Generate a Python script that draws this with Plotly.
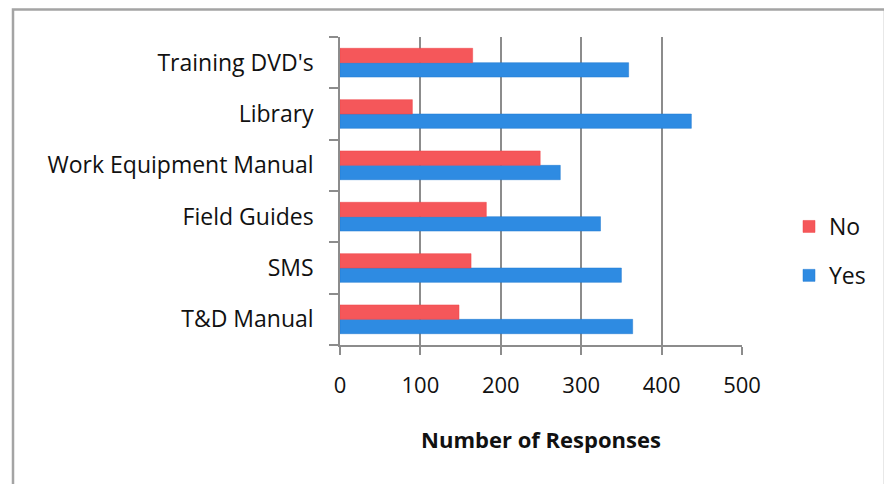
import plotly.graph_objects as go

categories = ["T&D Manual", "SMS", "Field Guides", "Work Equipment Manual", "Library", "Training DVD's"]
yes_values = [364, 350, 324, 274, 437, 359]
no_values = [148, 163, 182, 249, 90, 165]
x_ticks = [0, 100, 200, 300, 400, 500]

FONT = "Open Sans"
OFF = 8  # page body margin offset

W, H = 892 - OFF, 484 - OFF
PL, PR, PT, PB = 340 - OFF, 742 - OFF, 37 - OFF, 345 - OFF

fig = go.Figure()
fig.add_trace(go.Bar(
    y=categories, x=yes_values, name="Yes", orientation="h",
    marker=dict(color="#2E8BE2", line=dict(color="#1E78D0", width=0.5)),
    legendgroup="yes", legendrank=2,
))
fig.add_trace(go.Bar(
    y=categories, x=no_values, name="No", orientation="h",
    marker=dict(color="#F5575A", line=dict(color="#EE4448", width=0.5)),
    legendgroup="no", legendrank=1,
))

pw, ph = PR - PL, PB - PT
fig.update_layout(
    width=W, height=H,
    margin=dict(l=PL, r=W - PR, t=PT, b=H - PB, autoexpand=False),
    paper_bgcolor="white", plot_bgcolor="white",
    barmode="group", bargap=0.44, bargroupgap=0,
    font=dict(family=FONT, size=23, color="#111111"),
    showlegend=True,
    legend=dict(
        x=(789 - 340) / 402, y=(345 - 205) / 308, xanchor="left", yanchor="top",
        traceorder="grouped", tracegroupgap=16,
        font=dict(size=23, color="#111111"),
        bgcolor="rgba(0,0,0,0)",
    ),
    xaxis=dict(
        range=[0, 500], tickvals=x_ticks, ticktext=[str(v) for v in x_ticks],
        showgrid=True, gridcolor="#8c8c8c", gridwidth=1.5,
        showline=True, linecolor="#8c8c8c", linewidth=1.5,
        ticks="outside", ticklen=8, tickcolor="#8c8c8c", tickwidth=1.5,
        zeroline=False, tickfont=dict(size=22),
        title=dict(text="<b>Number of Responses</b>", font=dict(size=22), standoff=34),
        ticklabelstandoff=12,
    ),
    yaxis=dict(
        categoryorder="array", categoryarray=categories,
        showline=True, linecolor="#8c8c8c", linewidth=1.5,
        ticks="outside", ticklen=9, tickcolor="#8c8c8c", tickwidth=1.5,
        tickson="boundaries", showgrid=False,
        ticklabelstandoff=20,
    ),
    shapes=[dict(
        type="rect", xref="paper", yref="paper",
        x0=(13 - 340) / 402, x1=(885 - 340) / 402,
        y0=(345 - 500) / 308, y1=(345 - 9.5) / 308,
        line=dict(color="#a4a4a4", width=2.5), fillcolor="rgba(0,0,0,0)", layer="below",
    )],
)

fig.write_html("out.html")
